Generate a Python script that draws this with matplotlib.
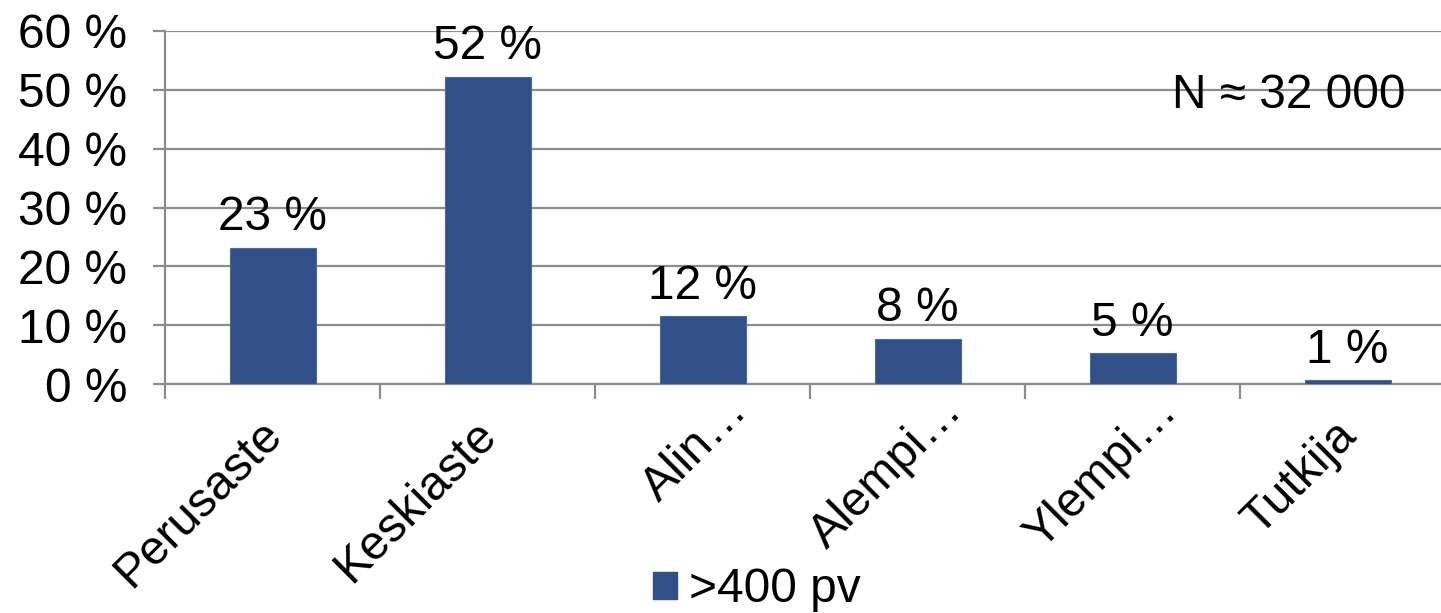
import matplotlib
matplotlib.use("Agg")
import matplotlib.pyplot as plt
from matplotlib.patches import Patch
from matplotlib.transforms import offset_copy

categories = ["Perusaste", "Keskiaste", "Alin…", "Alempi…", "Ylempi…", "Tutkija"]
values = [23.2, 52.2, 11.5, 7.7, 5.2, 0.6]
yticks = [0, 10, 20, 30, 40, 50, 60]
series_name = ">400 pv"
note = "N ≈ 32 000"

plt.rcParams['font.family'] = ['Liberation Sans', 'DejaVu Sans']
FS = 34.5

W, H = 1441, 613
fig = plt.figure(figsize=(W/100, H/100), dpi=100)
ax = fig.add_axes([165/W, 1-384/H, (1455-165)/W, (384-31)/H])

bar_color = "#31508A"
grid_color = "#8C8C8C"
x = list(range(len(categories)))
ax.bar(x, values, width=0.4, color=bar_color, edgecolor="#4A6AA5", linewidth=0.8, zorder=3)
for xi, v in zip(x, values):
    ax.text(xi, v + 1.3, f"{v:.0f} %", ha="center", va="bottom", fontsize=FS)

ax.set_xlim(-0.5, len(categories) - 0.5)
ax.set_ylim(0, 60)
ax.set_yticks(yticks)
ax.set_yticklabels([f"{t} %" for t in yticks], fontsize=FS)
ax.yaxis.grid(True, color=grid_color, linewidth=1.6, zorder=0)
ax.set_axisbelow(True)

ax.set_xticks([i - 0.5 for i in range(len(categories))])
ax.set_xticklabels([])
ax.tick_params(axis="x", which="major", length=10.5, width=1.6, color=grid_color)
ax.tick_params(axis="y", length=9, width=1.6, color=grid_color, pad=18)

# category labels, rotated 45 degrees
base = ax.get_xaxis_transform()
for xi, lab in zip(x, categories):
    if lab.endswith("…"):
        dx, dy = 22, -4
    else:
        dx, dy = -14, -28
    tr = offset_copy(base, fig=fig, x=dx, y=dy, units="dots")
    ax.text(xi, 0, lab, transform=tr, rotation=45, rotation_mode="anchor",
            ha="right", va="top", fontsize=FS, clip_on=False)

for s in ["top", "right"]:
    ax.spines[s].set_visible(False)
for s in ["left", "bottom"]:
    ax.spines[s].set_color(grid_color)
    ax.spines[s].set_linewidth(1.6)

ax.text(1405/W, 1-95/H, note, transform=fig.transFigure, ha="right", va="center", fontsize=FS)

handle = Patch(facecolor=bar_color, edgecolor=bar_color)
fig.legend([handle], [series_name], loc="center", bbox_to_anchor=(757/W, 1-590/H),
           frameon=False, fontsize=FS, handlelength=0.5, handleheight=0.5,
           handletextpad=0.25, borderpad=0)

fig.savefig("out.png", dpi=100)
